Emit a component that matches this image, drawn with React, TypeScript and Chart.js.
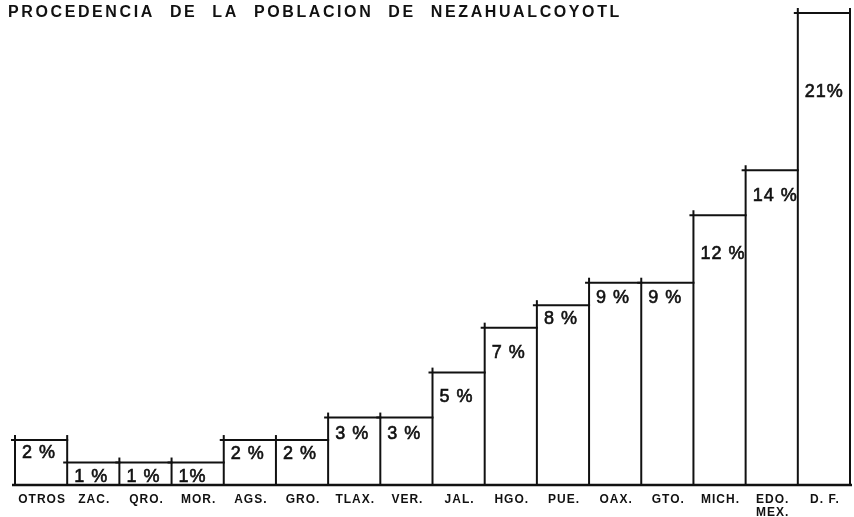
import React, { useEffect, useRef } from "react";
import { Chart, registerables } from "chart.js";

Chart.register(...registerables);

// ---------- data ----------
const TITLE = "PROCEDENCIA DE LA POBLACION DE NEZAHUALCOYOTL";
const categories: string[][] = [
  ["OTROS"], ["ZAC."], ["QRO."], ["MOR."], ["AGS."], ["GRO."], ["TLAX."], ["VER."],
  ["JAL."], ["HGO."], ["PUE."], ["OAX."], ["GTO."], ["MICH."], ["EDO.", "MEX."], ["D. F."],
];
const values = [2, 1, 1, 1, 2, 2, 3, 3, 5, 7, 8, 9, 9, 12, 14, 21];
const valueLabels = [
  "2 %", "1 %", "1 %", "1%", "2 %", "2 %", "3 %", "3 %",
  "5 %", "7 %", "8 %", "9 %", "9 %", "12 %", "14 %", "21%",
];

// ---------- layout (px, not data) ----------
const labelDrop = [13, 15, 15, 15, 14, 14, 16, 16, 24, 25, 14, 15, 15, 39, 26, 79];
const INK = "#111";

const drawPlugin = {
  id: "handDrawn",
  afterDatasetsDraw(chart: any) {
    const ctx: CanvasRenderingContext2D = chart.ctx;
    const meta = chart.getDatasetMeta(0);
    const bars: any[] = meta.data;
    const n = bars.length;
    ctx.save();
    ctx.strokeStyle = INK;
    ctx.fillStyle = INK;
    ctx.lineCap = "butt";

    const line = (x1: number, y1: number, x2: number, y2: number, w = 2) => {
      ctx.lineWidth = w;
      ctx.beginPath();
      ctx.moveTo(x1, y1);
      ctx.lineTo(x2, y2);
      ctx.stroke();
    };

    // top edges
    bars.forEach((b) => {
      const left = b.x - b.width / 2;
      const right = b.x + b.width / 2;
      line(left - 4, b.y, right + 1, b.y);
    });
    // vertical edges
    for (let k = 0; k <= n; k++) {
      let xpos: number;
      let topY: number;
      if (k < n) {
        xpos = bars[k].x - bars[k].width / 2;
        topY = k > 0 ? Math.min(bars[k - 1].y, bars[k].y) : bars[k].y;
      } else {
        xpos = bars[n - 1].x + bars[n - 1].width / 2;
        topY = bars[n - 1].y;
      }
      line(xpos, bars[0].base, xpos, topY - 5);
    }
    // baseline
    const base = bars[0].base;
    line(chart.chartArea.left - 3, base, chart.chartArea.right + 2, base, 2.5);

    // value labels
    ctx.font = "18px 'Liberation Sans', Arial, sans-serif";
    (ctx as any).letterSpacing = "1px";
    ctx.textAlign = "left";
    ctx.textBaseline = "middle";
    ctx.lineWidth = 0.6;
    bars.forEach((b, i) => {
      const left = b.x - b.width / 2;
      ctx.fillText(valueLabels[i], left + 7, b.y + labelDrop[i]);
      ctx.strokeText(valueLabels[i], left + 7, b.y + labelDrop[i]);
    });

    // category labels
    ctx.font = "bold 12px 'Liberation Sans', Arial, sans-serif";
    (ctx as any).letterSpacing = "1px";
    ctx.textAlign = "center";
    bars.forEach((b, i) => {
      categories[i].forEach((t, j) => {
        ctx.fillText(t, b.x + 1, base + 15 + j * 13);
      });
    });

    // title
    ctx.font = "bold 16px 'Liberation Sans', Arial, sans-serif";
    (ctx as any).letterSpacing = "2.6px";
    (ctx as any).wordSpacing = "8px";
    ctx.textAlign = "left";
    ctx.textBaseline = "alphabetic";
    ctx.fillText(TITLE, 8, 17);
    ctx.restore();
  },
};

export default function App() {
  const ref = useRef<HTMLCanvasElement>(null);
  useEffect(() => {
    if (!ref.current) return;
    const chart = new Chart(ref.current, {
      type: "bar",
      data: {
        labels: categories.map((c) => c.join(" ")),
        datasets: [
          {
            data: values,
            backgroundColor: "rgba(0,0,0,0)",
            borderWidth: 0,
            barPercentage: 1,
            categoryPercentage: 1,
          },
        ],
      },
      options: {
        responsive: false,
        animation: false,
        layout: { padding: { left: 15, right: 4, top: 13, bottom: 32 } },
        plugins: {
          legend: { display: false },
          tooltip: { enabled: false },
          title: { display: false },
        },
        scales: {
          x: { display: false },
          y: { display: false, min: 0, max: 21 },
        },
      },
      plugins: [drawPlugin],
    });
    return () => chart.destroy();
  }, []);
  return (
    <div style={{ position: "absolute", left: 0, top: 0, width: 854, height: 517, background: "#fff" }}>
      <canvas ref={ref} width={854} height={517} style={{ display: "block" }} />
    </div>
  );
}
